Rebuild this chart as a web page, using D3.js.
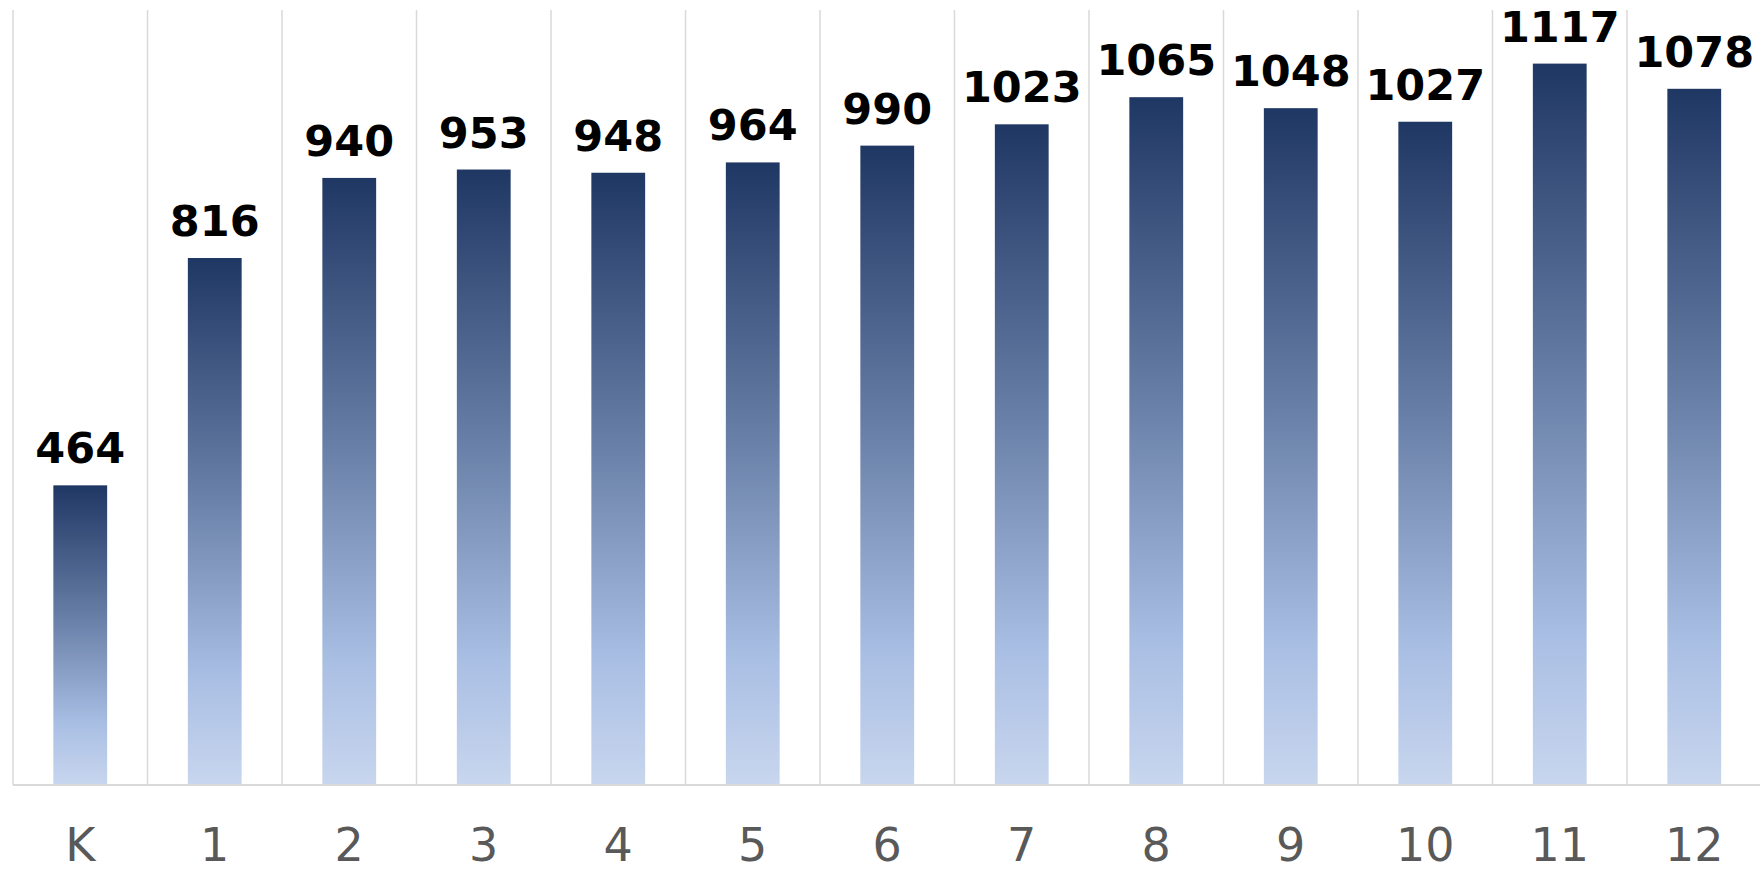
<!DOCTYPE html>
<html>
<head>
<meta charset="utf-8">
<script src="https://cdn.jsdelivr.net/npm/d3@7"></script>
<style>
  html, body { margin: 0; padding: 0; background: #fff; }
  svg { display: block; }
</style>
</head>
<body>
<svg id="chart" width="1760" height="872"></svg>
<script>
const categories = ["K", "1", "2", "3", "4", "5", "6", "7", "8", "9", "10", "11", "12"];
const values = [464, 816, 940, 953, 948, 964, 990, 1023, 1065, 1048, 1027, 1117, 1078];
const yDomain = [0, 1200];

(function () {
const svg = d3.select("#chart");
const plotLeft = 13, bandW = 134.5, plotTop = 10, plotBottom = 785;

const x = d3.scaleBand().domain(categories).range([plotLeft, plotLeft + bandW * categories.length]).paddingInner(0).paddingOuter(0);
const y = d3.scaleLinear().domain(yDomain).range([plotBottom, plotTop]);

const defs = svg.append("defs");
const grad = defs.append("linearGradient").attr("id", "barGrad")
  .attr("x1", 0).attr("y1", 0).attr("x2", 0).attr("y2", 1);
grad.append("stop").attr("offset", "0%").attr("stop-color", "#1f3763");
grad.append("stop").attr("offset", "45%").attr("stop-color", "#6980a8");
grad.append("stop").attr("offset", "80%").attr("stop-color", "#aabfe4");
grad.append("stop").attr("offset", "100%").attr("stop-color", "#c8d6ee");

// vertical category gridlines
svg.append("g").selectAll("line")
  .data(categories)
  .join("line")
  .attr("x1", d => x(d)).attr("x2", d => x(d))
  .attr("y1", y(yDomain[1])).attr("y2", plotBottom)
  .attr("stroke", "#d9d9d9").attr("stroke-width", 1.5);

// bars
const bw = x.bandwidth() * 0.4;
svg.append("g").selectAll("rect")
  .data(values)
  .join("rect")
  .attr("x", (d, i) => x(categories[i]) + x.bandwidth() / 2 - bw / 2)
  .attr("y", d => y(d))
  .attr("width", bw)
  .attr("height", d => plotBottom - y(d))
  .attr("fill", "url(#barGrad)");

// bottom axis line
svg.append("line")
  .attr("x1", plotLeft).attr("x2", 1760)
  .attr("y1", plotBottom).attr("y2", plotBottom)
  .attr("stroke", "#d9d9d9").attr("stroke-width", 2);

// data labels
svg.append("g").selectAll("text")
  .data(values)
  .join("text")
  .attr("x", (d, i) => x(categories[i]) + x.bandwidth() / 2)
  .attr("y", d => y(d) - 22)
  .attr("text-anchor", "middle")
  .attr("font-family", "DejaVu Sans, sans-serif")
  .attr("font-weight", "bold")
  .attr("font-size", 43)
  .attr("fill", "#000")
  .text(d => d);

// category labels
svg.append("g").selectAll("text")
  .data(categories)
  .join("text")
  .attr("x", d => x(d) + x.bandwidth() / 2)
  .attr("y", 861)
  .attr("text-anchor", "middle")
  .attr("font-family", "DejaVu Sans, sans-serif")
  .attr("font-size", 46)
  .attr("fill", "#595959")
  .text(d => d);
})();
</script>
</body>
</html>
